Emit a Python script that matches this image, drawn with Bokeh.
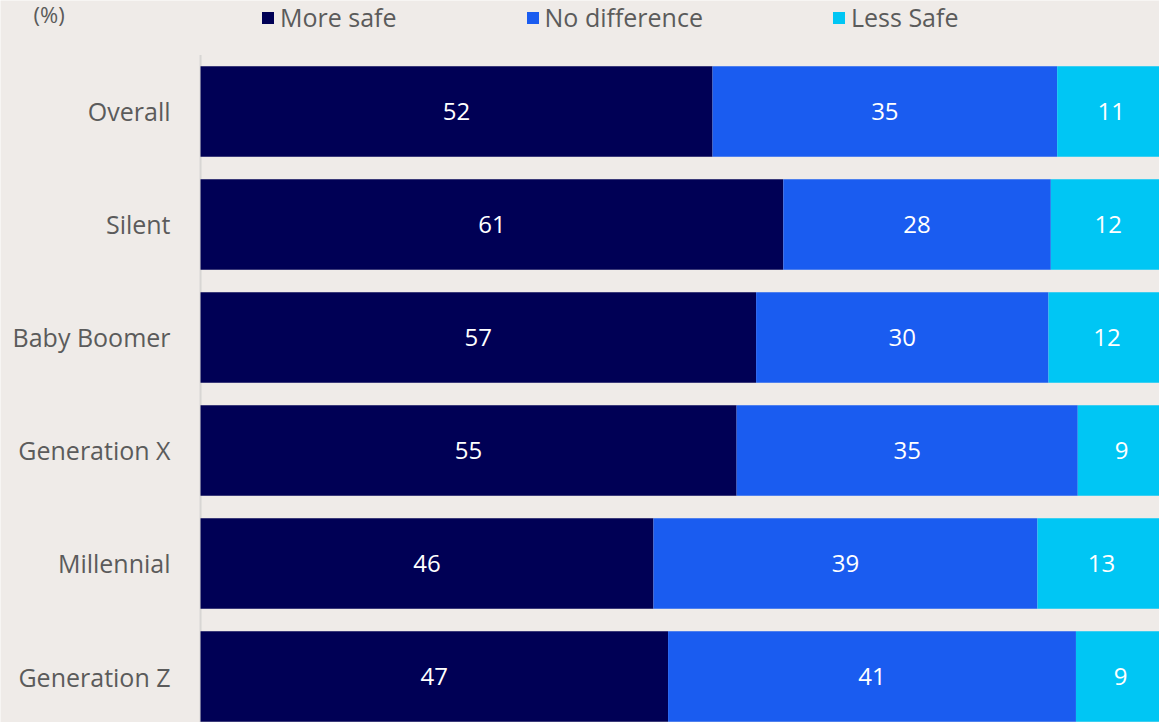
from bokeh.plotting import figure
from bokeh.models import (ColumnDataSource, Range1d, Legend, LegendItem, Label)
from bokeh.core.properties import value
from bokeh.embed import file_html
from bokeh.resources import INLINE

# ---- data ----
categories = ["Overall", "Silent", "Baby Boomer", "Generation X", "Millennial", "Generation Z"]
more_safe = [52, 61, 57, 55, 46, 47]
no_difference = [35, 28, 30, 35, 39, 41]
less_safe = [11, 12, 12, 9, 13, 9]
series_names = ["More safe", "No difference", "Less Safe"]
colors = ["#000055", "#1A5CF0", "#00C6F4"]
unit_label = "(%)"

BG = "#EFEBE8"
TXT = "#5B5B5B"
FONT = "Open Sans"

ypos = list(range(len(categories), 0, -1))  # Overall on top
totals = [a + b + c for a, b, c in zip(more_safe, no_difference, less_safe)]
series = [more_safe, no_difference, less_safe]
shares = [[v / t for v, t in zip(s, totals)] for s in series]

# view window (the reference is a crop of a larger chart)
Y_LO, Y_AXIS_TOP, Y_HI = 0.593, 6.5, 6.982
X_LO, X_HI = -0.2073, 0.9938

p = figure(width=1159, height=722, output_backend="svg", toolbar_location=None,
           x_range=Range1d(X_LO, X_HI), y_range=Range1d(Y_LO, Y_HI),
           min_border_left=0, min_border_right=0, min_border_top=0, min_border_bottom=0)
p.background_fill_color = BG
p.border_fill_color = BG
p.outline_line_color = None
p.xgrid.visible = False
p.ygrid.visible = False
p.xaxis.visible = False
p.yaxis.visible = False

# category axis baseline
p.segment(x0=[0], y0=[Y_LO], x1=[0], y1=[Y_AXIS_TOP], line_color="#D8D6D4", line_width=2)

# category labels
p.text(x=[0] * len(categories), y=ypos, text=categories, x_offset=-30,
       text_color=TXT, text_font=value(FONT), text_font_size="25px",
       text_align="right", text_baseline="middle")

renderers = []
left = [0.0] * len(categories)
for name, sh, raw, col in zip(series_names, shares, series, colors):
    right = [l + s for l, s in zip(left, sh)]
    mid = [(l + r) / 2 for l, r in zip(left, right)]
    src = ColumnDataSource(dict(y=ypos, left=left, right=right, mid=mid,
                                lab=[str(v) for v in raw]))
    r = p.hbar(y="y", left="left", right="right", height=0.8, source=src,
               fill_color=col, line_color=None)
    renderers.append(r)
    p.text(x="mid", y="y", text="lab", source=src, text_color="white",
           text_font=value(FONT), text_font_size="24px",
           text_align="center", text_baseline="middle")
    left = right

legend = Legend(items=[LegendItem(label=n, renderers=[r]) for n, r in zip(series_names, renderers)],
                orientation="horizontal", location=(260, 688),
                glyph_width=15, glyph_height=15, label_standoff=5, spacing=128,
                padding=0, margin=0, border_line_color=None, background_fill_alpha=0,
                label_text_font=FONT, label_text_font_size="25px", label_text_color=TXT)
p.add_layout(legend, "center")

unit = Label(x=33, y=724, x_units="screen", y_units="screen", text=unit_label,
             text_font=FONT, text_font_size="22px", text_color=TXT,
             text_baseline="top", text_align="left")
p.add_layout(unit)

open("out.html", "w").write(file_html(p, INLINE))
